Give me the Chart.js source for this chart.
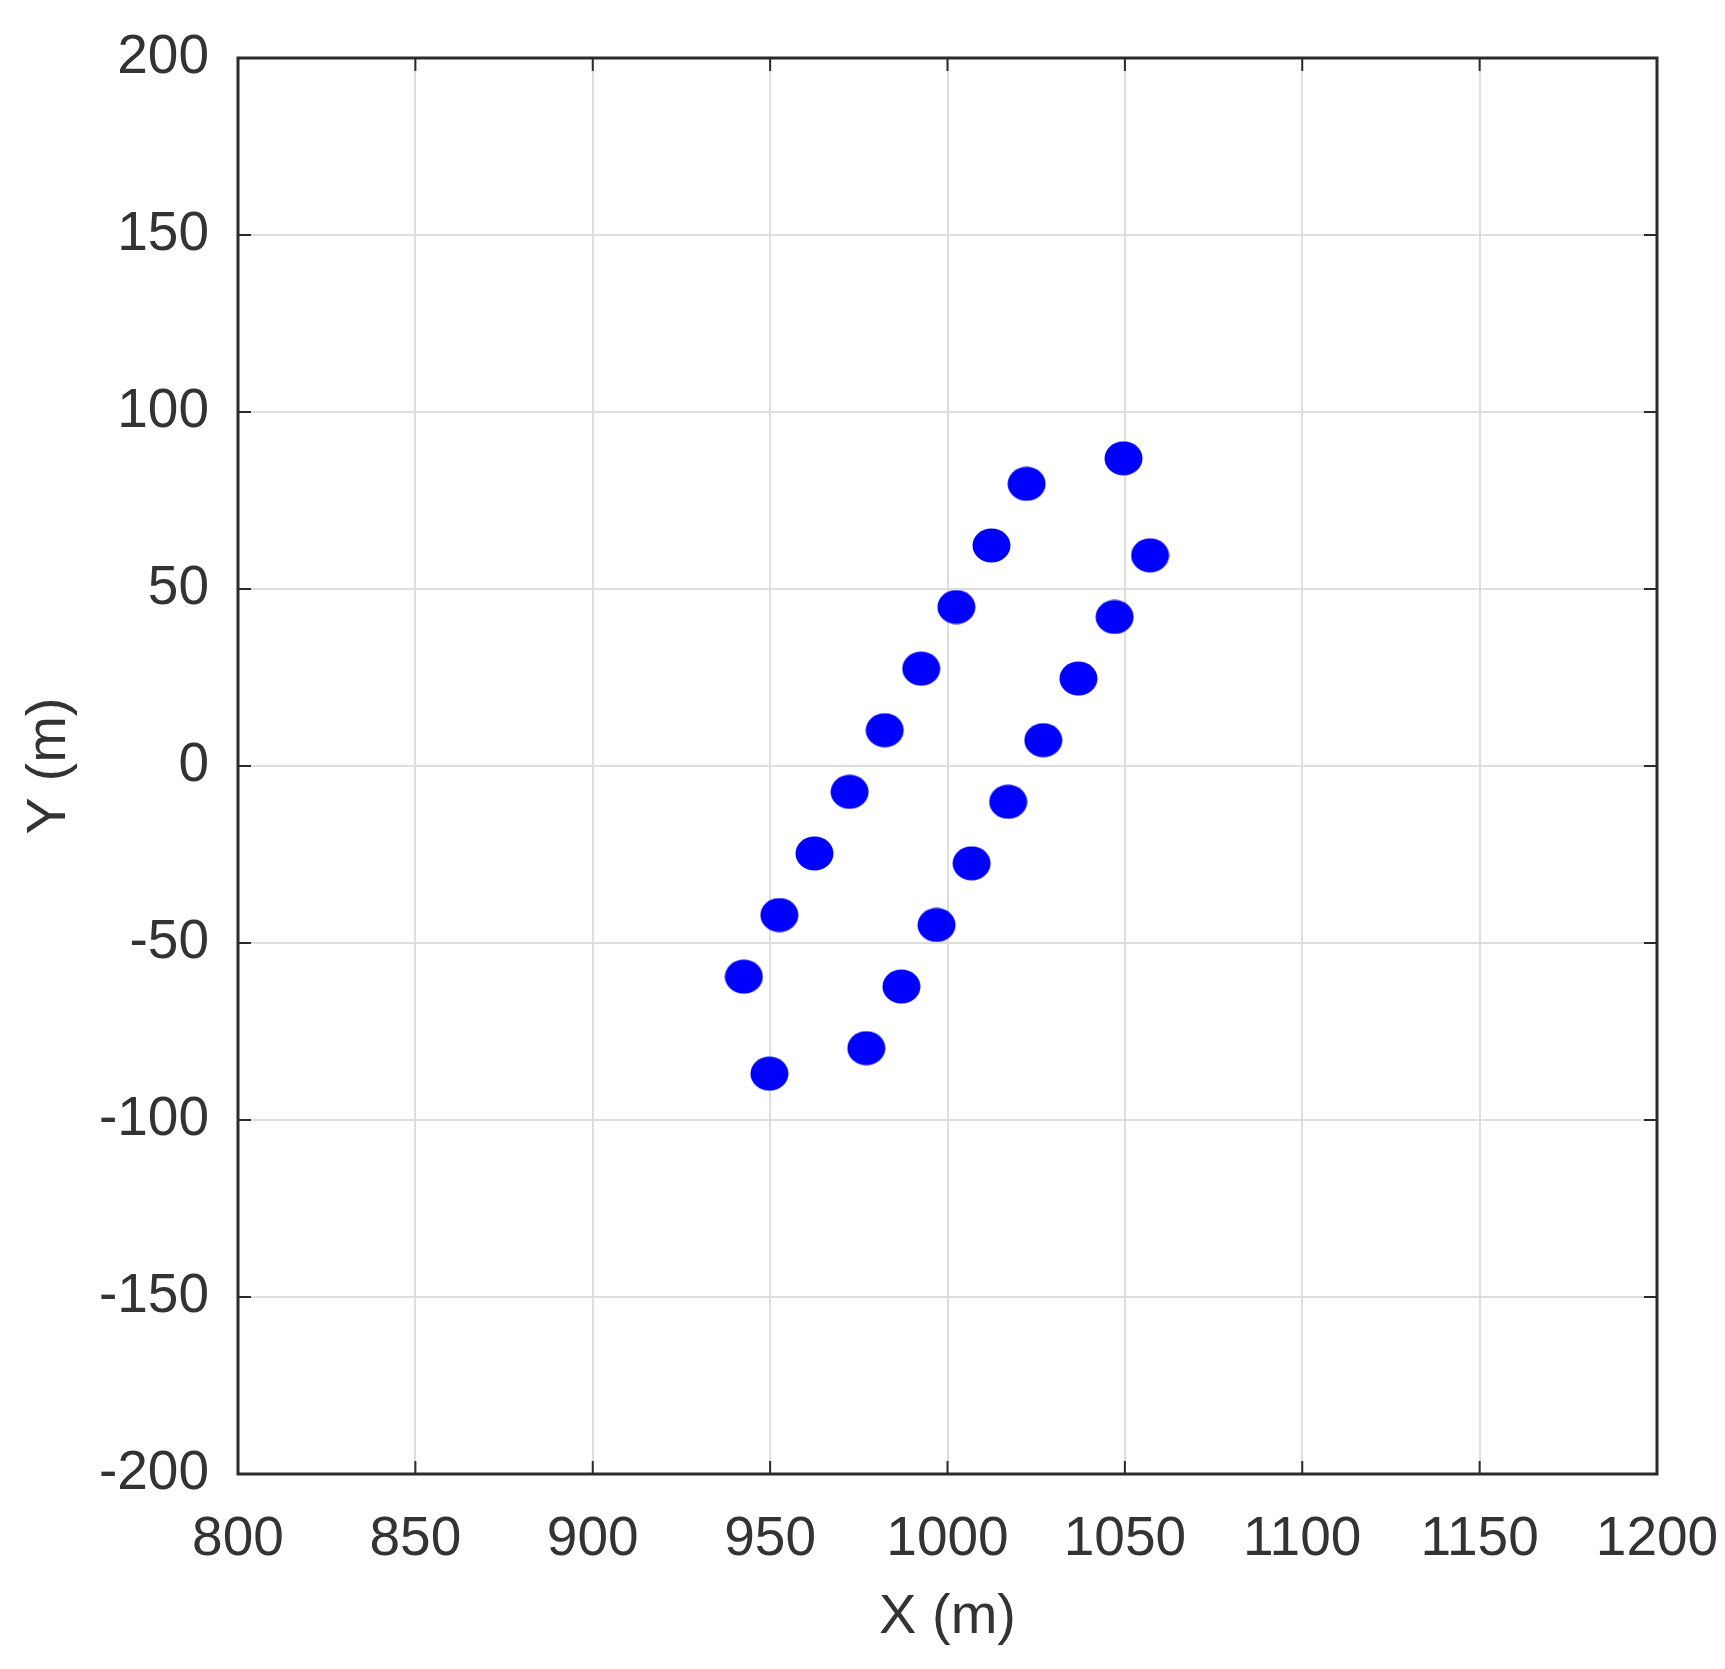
<!DOCTYPE html>
<html>
<head>
<meta charset="utf-8">
<script src="https://cdn.jsdelivr.net/npm/chart.js@4.4.1/dist/chart.umd.min.js"></script>
<style>
  html, body { margin:0; padding:0; background:#fff; }
  #wrap { width:1725px; height:1669px; }
</style>
</head>
<body>
<div id="wrap"><canvas id="plot" width="1725" height="1669"></canvas></div>
<script>
// ====== Data ======
const xA = [942.6, 952.6, 962.5, 972.4, 982.3, 992.6, 1002.5, 1012.4, 1022.3, 1049.6];
const yA = [-59.5, -42.1, -24.7,  -7.3,  10.1,  27.5,   44.9,   62.3,   79.7,   86.9];
const xB = [949.8, 977.1, 987.0, 996.9, 1006.8, 1017.1, 1027.0, 1036.9, 1047.1, 1057.1];
const yB = [-86.9, -79.7, -62.3, -44.9,  -27.5,  -10.1,    7.3,   24.7,   42.1,   59.5];

const xTicks = [800, 850, 900, 950, 1000, 1050, 1100, 1150, 1200];
const yTicks = [-200, -150, -100, -50, 0, 50, 100, 150, 200];

// ====== Style ======
const FONT = "'Liberation Sans', Arial, sans-serif";
const TXT = '#333333';
const AXIS = '#2b2b2b';
const GRID = '#dedede';
const BLUE = '#0000ff';

// ellipse marker (the original is slightly wider than tall)
function ellipseMarker(w, h, color){
  const c = document.createElement('canvas');
  c.width = w; c.height = h;
  const g = c.getContext('2d');
  g.fillStyle = color;
  g.beginPath();
  g.ellipse(w/2, h/2, w/2 - 0.5, h/2 - 0.5, 0, 0, Math.PI*2);
  g.fill();
  return c;
}
const marker = ellipseMarker(39, 35, BLUE);

const toPts = (xs, ys) => xs.map((x, i) => ({x, y: ys[i]}));

// box around plot + inward tick marks on all four sides
const boxPlugin = {
  id: 'box',
  afterDatasetsDraw(chart){
    const {ctx, chartArea:a, scales:{x, y}} = chart;
    const tl = 13;
    ctx.save();
    ctx.strokeStyle = AXIS;
    ctx.lineWidth = 2;
    ctx.beginPath();
    xTicks.forEach(v => {
      const px = x.getPixelForValue(v);
      ctx.moveTo(px, a.bottom); ctx.lineTo(px, a.bottom - tl);
      ctx.moveTo(px, a.top);    ctx.lineTo(px, a.top + tl);
    });
    yTicks.forEach(v => {
      const py = y.getPixelForValue(v);
      ctx.moveTo(a.left, py);  ctx.lineTo(a.left + tl, py);
      ctx.moveTo(a.right, py); ctx.lineTo(a.right - tl, py);
    });
    ctx.stroke();
    ctx.lineWidth = 3;
    ctx.strokeRect(a.left, a.top, a.right - a.left, a.bottom - a.top);
    ctx.restore();
  }
};

new Chart(document.getElementById('plot'), {
  type: 'scatter',
  data: {
    datasets: [
      { data: toPts(xA, yA), pointStyle: marker, pointRadius: 18, pointHoverRadius: 18,
        backgroundColor: BLUE, borderColor: BLUE },
      { data: toPts(xB, yB), pointStyle: marker, pointRadius: 18, pointHoverRadius: 18,
        backgroundColor: BLUE, borderColor: BLUE }
    ]
  },
  options: {
    responsive: false,
    animation: false,
    layout: { padding: { left: 0, right: 68, top: 58, bottom: 0 } },
    plugins: { legend: { display: false }, tooltip: { enabled: false } },
    scales: {
      x: {
        type: 'linear', min: 800, max: 1200,
        afterBuildTicks: s => { s.ticks = xTicks.map(v => ({value: v})); },
        afterFit: s => { s.height = 195; s.paddingRight = 0; s.paddingLeft = 0; },
        grid: { color: GRID, lineWidth: 2, drawTicks: false },
        border: { display: false },
        ticks: { color: TXT, padding: 33, font: { family: FONT, size: 55 }, maxRotation: 0,
                 callback: v => String(v) },
        title: { display: true, text: 'X (m)', color: TXT, padding: { top: 0, bottom: 18 },
                 font: { family: FONT, size: 56 } }
      },
      y: {
        type: 'linear', min: -200, max: 200,
        afterBuildTicks: s => { s.ticks = yTicks.map(v => ({value: v})); },
        afterFit: s => { s.width = 238; s.paddingTop = 0; s.paddingBottom = 0; },
        grid: { color: GRID, lineWidth: 2, drawTicks: false },
        border: { display: false },
        ticks: { color: TXT, padding: 29, font: { family: FONT, size: 55 },
                 callback: v => String(v) },
        title: { display: true, text: 'Y (m)', color: TXT, padding: { top: 16, bottom: 0 },
                 font: { family: FONT, size: 56 } }
      }
    }
  },
  plugins: [boxPlugin]
});
</script>
</body>
</html>
